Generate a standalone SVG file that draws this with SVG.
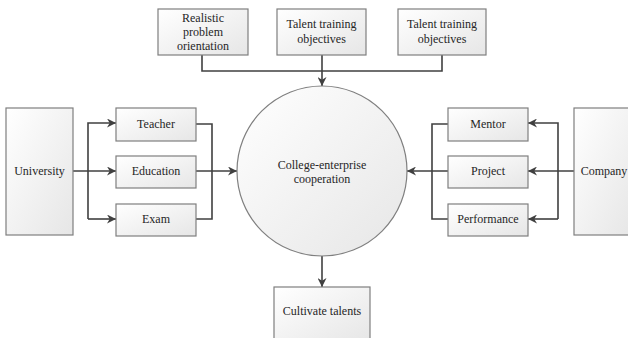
<svg xmlns="http://www.w3.org/2000/svg" width="628" height="338" viewBox="0 0 628 338">
<defs>
<linearGradient id="g" x1="0" y1="0" x2="1" y2="1">
<stop offset="0" stop-color="#ffffff"/>
<stop offset="1" stop-color="#e6e6e6"/>
</linearGradient>
<marker id="a" viewBox="0 0 10 10" refX="10" refY="5" markerWidth="9" markerHeight="9" markerUnits="userSpaceOnUse" orient="auto">
<path d="M0,0 L10,5 L0,10 L3,5 Z" fill="#404040"/>
</marker>
<style>
.b{fill:url(#g);stroke:#7f7f7f;stroke-width:1.2}
.t{font-family:'Liberation Serif','Times New Roman','DejaVu Serif',serif;font-size:12px;fill:#262626;text-anchor:middle}
.c{fill:none;stroke:#404040;stroke-width:1.6}
</style>
</defs>
<rect width="628" height="338" fill="#ffffff"/>
<g id="connectors">
<path class="c" d="M202,55 V71 H442 V55"/>
<path class="c" d="M322,55 V86" marker-end="url(#a)"/>
<path class="c" d="M73,171 H116" marker-end="url(#a)"/>
<path class="c" d="M88,219 V123 H116" marker-end="url(#a)"/>
<path class="c" d="M88,219 H116" marker-end="url(#a)"/>
<path class="c" d="M196,124 H212 V219 H196"/>
<path class="c" d="M196,171 H237" marker-end="url(#a)"/>
<path class="c" d="M574,171 H528" marker-end="url(#a)"/>
<path class="c" d="M558,219 V123 H528" marker-end="url(#a)"/>
<path class="c" d="M558,219 H528" marker-end="url(#a)"/>
<path class="c" d="M448,124 H432 V219 H448"/>
<path class="c" d="M448,171 H407" marker-end="url(#a)"/>
<path class="c" d="M322,256 V287" marker-end="url(#a)"/>
</g>
<g id="realistic"><rect class="b" x="158" y="9" width="90" height="46"/><text class="t" x="203" y="22">Realistic</text><text class="t" x="203" y="36">problem</text><text class="t" x="203" y="50">orientation</text></g>
<g id="talent1"><rect class="b" x="277" y="9" width="89" height="46"/><text class="t" x="321.5" y="28">Talent training</text><text class="t" x="321.5" y="43">objectives</text></g>
<g id="talent2"><rect class="b" x="398" y="9" width="88" height="46"/><text class="t" x="442" y="28">Talent training</text><text class="t" x="442" y="43">objectives</text></g>
<g id="university"><rect class="b" x="6" y="108" width="67" height="127"/><text class="t" x="39.5" y="175">University</text></g>
<g id="teacher"><rect class="b" x="116" y="108" width="80" height="33"/><text class="t" x="156" y="128">Teacher</text></g>
<g id="education"><rect class="b" x="116" y="156" width="80" height="32"/><text class="t" x="156" y="175">Education</text></g>
<g id="exam"><rect class="b" x="116" y="204" width="80" height="32"/><text class="t" x="156" y="223">Exam</text></g>
<g id="center"><circle class="b" cx="322" cy="171" r="85"/><text class="t" x="322" y="169">College-enterprise</text><text class="t" x="322" y="183">cooperation</text></g>
<g id="mentor"><rect class="b" x="448" y="108" width="80" height="33"/><text class="t" x="488" y="128">Mentor</text></g>
<g id="project"><rect class="b" x="448" y="156" width="80" height="32"/><text class="t" x="488" y="175">Project</text></g>
<g id="performance"><rect class="b" x="448" y="204" width="80" height="32"/><text class="t" x="488" y="223">Performance</text></g>
<g id="company"><rect class="b" x="574" y="108" width="60" height="127"/><text class="t" x="604" y="175">Company</text></g>
<g id="cultivate"><rect class="b" x="274" y="287" width="96" height="55"/><text class="t" x="322" y="315">Cultivate talents</text></g>
</svg>
